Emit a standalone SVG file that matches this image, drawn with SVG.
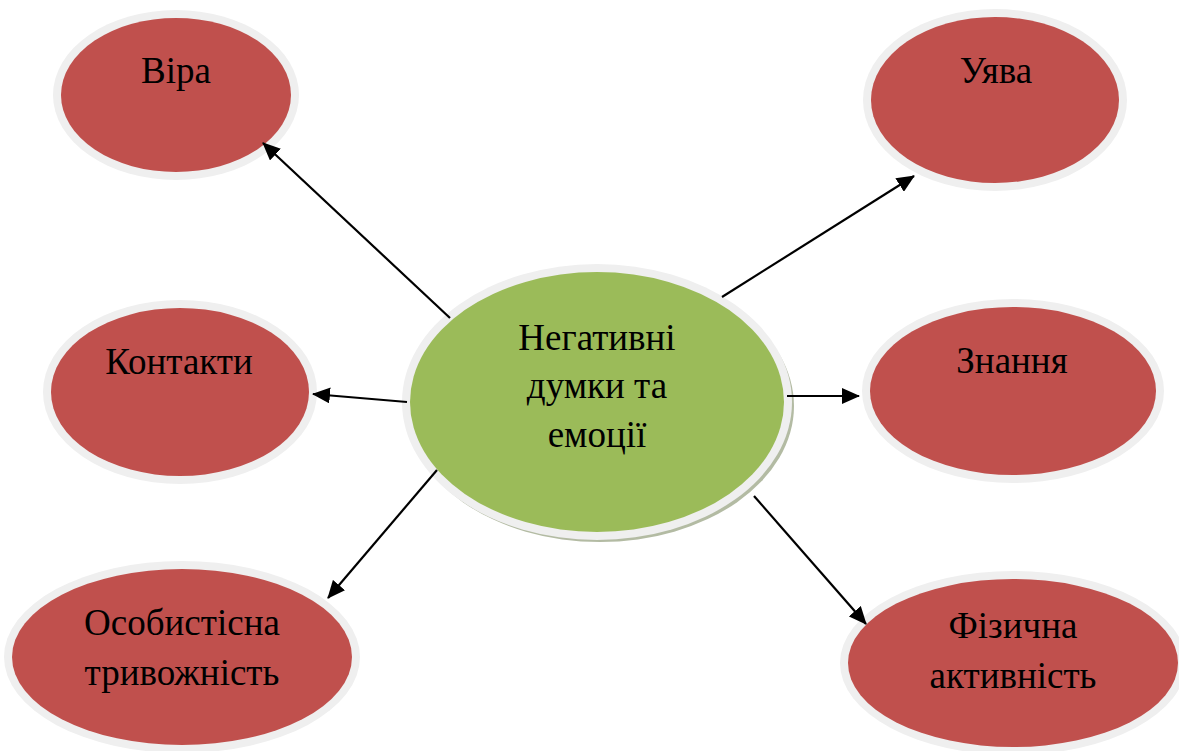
<svg xmlns="http://www.w3.org/2000/svg" width="1179" height="751" viewBox="0 0 1179 751">
  <style>
    .ring { fill: #efefef; }
    .red { fill: #c0504d; }
    .green { fill: #9bbb59; }
    .lbl { font-family: "Liberation Serif", "Times New Roman", serif; font-size: 37px; fill: #000; text-anchor: middle; }
    .conn { stroke: #000; stroke-width: 2.2; fill: none; marker-end: url(#arrow); }
  </style>
  <defs>
    <marker id="arrow" markerUnits="userSpaceOnUse" markerWidth="18" markerHeight="16" viewBox="0 0 18 16" refX="17" refY="8" orient="auto">
      <path d="M0,0 L18,8 L0,16 Z" fill="#000"/>
    </marker>
  </defs>
  <rect width="1179" height="751" fill="#fff"/>

  <g id="node-vira">
    <ellipse class="ring" cx="176" cy="95" rx="123" ry="85"/>
    <ellipse class="red" cx="176" cy="95" rx="115" ry="77"/>
    <text class="lbl" x="176" y="83">Віра</text>
  </g>

  <g id="node-uyava">
    <ellipse class="ring" cx="995" cy="100" rx="132" ry="91"/>
    <ellipse class="red" cx="995" cy="100" rx="124" ry="83"/>
    <text class="lbl" x="996" y="83">Уява</text>
  </g>

  <g id="node-kontakty">
    <ellipse class="ring" cx="180" cy="392" rx="137" ry="92"/>
    <ellipse class="red" cx="180" cy="392" rx="129" ry="84"/>
    <text class="lbl" x="179" y="374">Контакти</text>
  </g>

  <g id="node-znannya">
    <ellipse class="ring" cx="1013" cy="391" rx="151" ry="92"/>
    <ellipse class="red" cx="1013" cy="391" rx="143" ry="84"/>
    <text class="lbl" x="1012" y="373">Знання</text>
  </g>

  <g id="node-osobystisna">
    <ellipse class="ring" cx="182" cy="657" rx="178" ry="96"/>
    <ellipse class="red" cx="182" cy="657" rx="170" ry="88"/>
    <text class="lbl" x="182" y="635">Особистісна</text>
    <text class="lbl" x="182" y="685">тривожність</text>
  </g>

  <g id="node-fizychna">
    <ellipse class="ring" cx="1013" cy="663" rx="173" ry="92"/>
    <ellipse class="red" cx="1013" cy="663" rx="165" ry="84"/>
    <text class="lbl" x="1013" y="638">Фізична</text>
    <text class="lbl" x="1013" y="688">активність</text>
  </g>

  <g id="node-center">
    <ellipse cx="600" cy="406" rx="194" ry="136" fill="#b3bba3"/>
    <ellipse class="ring" cx="597" cy="402" rx="195" ry="138"/>
    <ellipse class="green" cx="597" cy="402" rx="187" ry="130"/>
    <text class="lbl" x="597" y="350">Негативні</text>
    <text class="lbl" x="597" y="398">думки та</text>
    <text class="lbl" x="597" y="447">емоції</text>
  </g>

  <g id="connectors">
    <line class="conn" x1="450" y1="318" x2="263" y2="143"/>
    <line class="conn" x1="722" y1="297" x2="914" y2="176"/>
    <line class="conn" x1="407" y1="402" x2="313" y2="394"/>
    <line class="conn" x1="787" y1="396" x2="859" y2="396"/>
    <line class="conn" x1="754" y1="496" x2="866" y2="624"/>
    <line class="conn" x1="437" y1="470" x2="328" y2="598"/>
  </g>
</svg>
